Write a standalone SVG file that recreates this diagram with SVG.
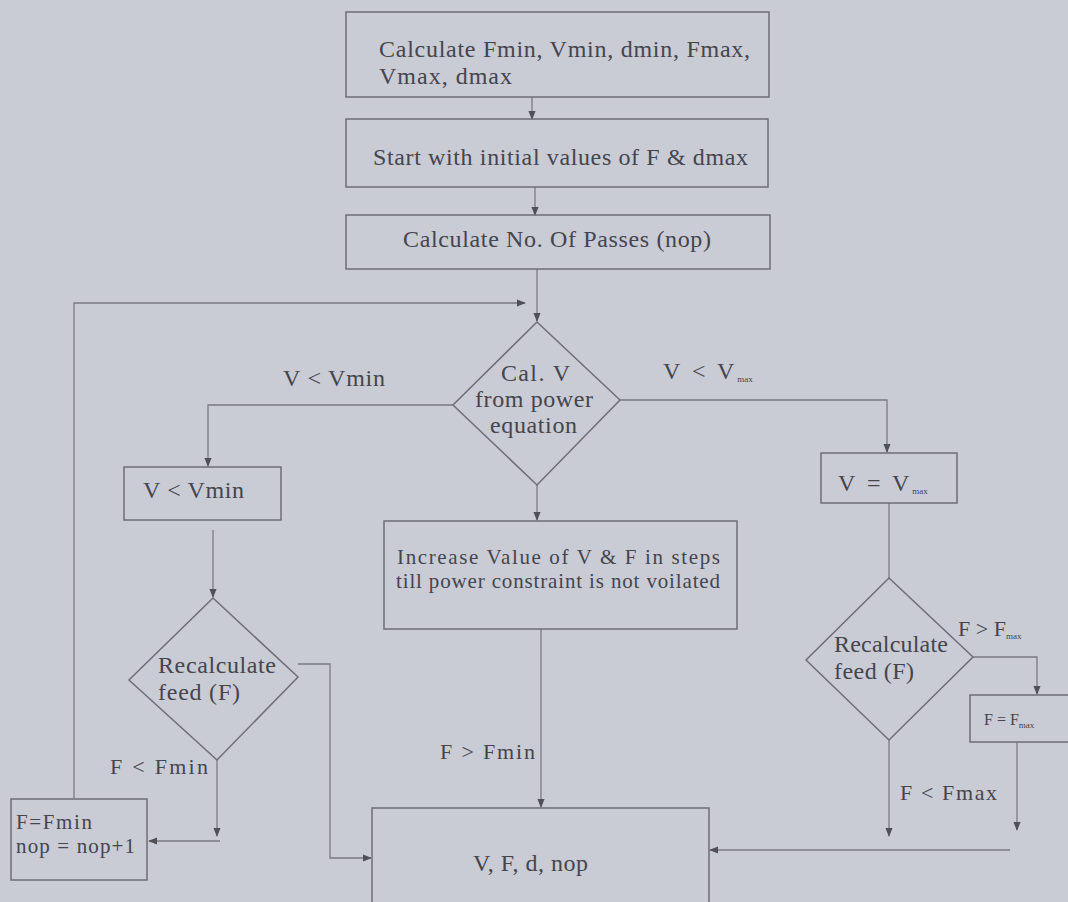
<svg xmlns="http://www.w3.org/2000/svg" width="1068" height="902" viewBox="0 0 1068 902">
<defs>
<marker id="ah" viewBox="0 0 10 10" refX="9" refY="5" markerWidth="9" markerHeight="9" markerUnits="userSpaceOnUse" orient="auto">
<path d="M0,1 L10,5 L0,9 z" fill="#505058"/>
</marker>
</defs>
<style>
.n{fill:none;stroke:#6e6e76;stroke-width:1.5}
.c{fill:none;stroke:#7a7a82;stroke-width:1.3}
.a{marker-end:url(#ah)}
.t text{fill:#45454d;font-size:24px}
.t .s{font-size:21px}
.t .m{font-size:22px}
.t .sub{font-size:9px;letter-spacing:0}
.t .ls{letter-spacing:3px}
</style>
<rect width="1068" height="902" fill="#c9cbd5"/>
<g id="connectors">
<path class="c a" d="M532,97 V119"/>
<path class="c a" d="M535,187 V215"/>
<path class="c a" d="M537,269 V321"/>
<path class="c a" d="M74,798 V303 H525"/>
<path class="c a" d="M453,405 H208 V466"/>
<path class="c a" d="M213,530 V597"/>
<path class="c a" d="M298,664 H330 V858 H371"/>
<path class="c a" d="M217,760 V836"/>
<path class="c a" d="M220,841 H149"/>
<path class="c a" d="M537,485 V520"/>
<path class="c a" d="M541,629 V807"/>
<path class="c a" d="M620,400 H887 V452"/>
<path class="c" d="M889,503 V578"/>
<path class="c a" d="M973,657 H1037 V694"/>
<path class="c a" d="M1017,742 V830"/>
<path class="c a" d="M889,740 V836"/>
<path class="c a" d="M1010,850 H710"/>
</g>
<g class="t" font-family="Liberation Serif, Times New Roman, DejaVu Serif, serif">
<g id="calc-limits">
<rect class="n" x="346" y="12" width="423" height="85"/>
<text x="379" y="57" textLength="371" lengthAdjust="spacing">Calculate Fmin, Vmin, dmin, Fmax,</text>
<text x="379" y="84" textLength="133" lengthAdjust="spacing">Vmax, dmax</text>
</g>
<g id="start-initial">
<rect class="n" x="346" y="119" width="422" height="68"/>
<text x="373" y="165" textLength="375" lengthAdjust="spacing">Start with initial values of F &amp; dmax</text>
</g>
<g id="calc-nop">
<rect class="n" x="346" y="215" width="424" height="54"/>
<text x="403" y="247" textLength="308" lengthAdjust="spacing">Calculate No. Of Passes (nop)</text>
</g>
<g id="calc-v">
<path class="n" d="M537,322 L620,400 L537,485 L453,405 Z"/>
<text x="501" y="381" textLength="69" lengthAdjust="spacing">Cal. V</text>
<text x="475" y="407" textLength="118" lengthAdjust="spacing">from power</text>
<text x="490" y="433" textLength="87" lengthAdjust="spacing">equation</text>
</g>
<g id="label-vmin">
<text x="283" y="386" textLength="102" lengthAdjust="spacing">V &lt; Vmin</text>
</g>
<g id="label-vmax">
<text x="663" y="379" class="ls">V &lt; V<tspan class="sub" dy="3">max</tspan></text>
</g>
<g id="v-lt-vmin">
<rect class="n" x="124" y="467" width="157" height="53"/>
<text x="143" y="498" textLength="101" lengthAdjust="spacing">V &lt; Vmin</text>
</g>
<g id="recalc-feed-left">
<path class="n" d="M213,598 L298,677 L217,760 L129,680 Z"/>
<text x="158" y="673" textLength="118" lengthAdjust="spacing">Recalculate</text>
<text x="158" y="700" textLength="82" lengthAdjust="spacing">feed (F)</text>
</g>
<g id="label-fmin-lt">
<text x="110" y="774" class="m" textLength="98" lengthAdjust="spacing">F &lt; Fmin</text>
</g>
<g id="f-fmin">
<rect class="n" x="11" y="799" width="136" height="81"/>
<text x="16" y="829" class="s" textLength="76" lengthAdjust="spacing">F=Fmin</text>
<text x="16" y="853" class="s" textLength="119" lengthAdjust="spacing">nop = nop+1</text>
</g>
<g id="increase-vf">
<rect class="n" x="384" y="521" width="353" height="108"/>
<text x="397" y="564" class="s" textLength="323" lengthAdjust="spacing">Increase Value of V &amp; F in steps</text>
<text x="396" y="588" class="s" textLength="324" lengthAdjust="spacing">till power constraint is not voilated</text>
</g>
<g id="label-fmin-gt">
<text x="440" y="759" class="m" textLength="95" lengthAdjust="spacing">F &gt; Fmin</text>
</g>
<g id="result">
<rect class="n" x="372" y="808" width="337" height="100"/>
<text x="473" y="871" textLength="115" lengthAdjust="spacing">V, F, d, nop</text>
</g>
<g id="v-vmax">
<rect class="n" x="821" y="453" width="136" height="50"/>
<text x="838" y="491" class="ls">V = V<tspan class="sub" dy="3">max</tspan></text>
</g>
<g id="recalc-feed-right">
<path class="n" d="M889,578 L973,657 L889,740 L806,660 Z"/>
<text x="834" y="652" textLength="114" lengthAdjust="spacing">Recalculate</text>
<text x="834" y="679" textLength="80" lengthAdjust="spacing">feed (F)</text>
</g>
<g id="label-fmax-gt">
<text x="958" y="636" class="m">F &gt; F<tspan class="sub" dy="3">max</tspan></text>
</g>
<g id="f-fmax">
<rect class="n" x="970" y="695" width="110" height="47"/>
<text x="984" y="725" style="font-size:16px">F = F<tspan class="sub" dy="3">max</tspan></text>
</g>
<g id="label-fmax-lt">
<text x="900" y="800" class="m" textLength="97" lengthAdjust="spacing">F &lt; Fmax</text>
</g>
</g>
</svg>
